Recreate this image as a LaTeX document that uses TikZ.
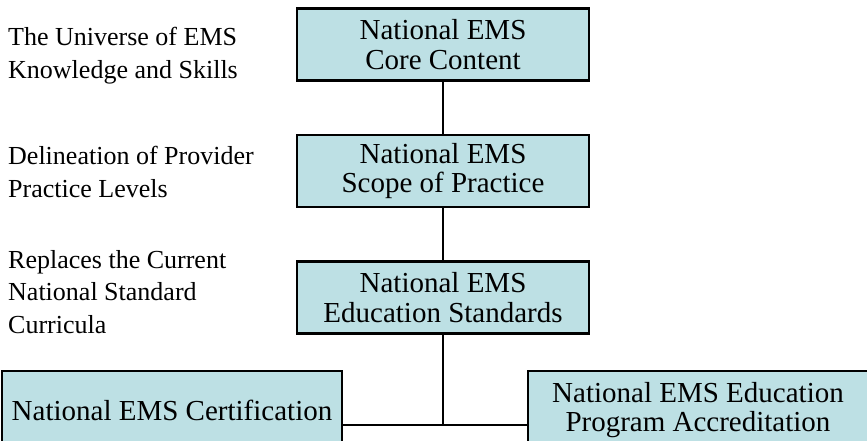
\documentclass[tikz,border=0pt]{standalone}
\usepackage{fontspec}
\setmainfont{Liberation Serif}
\usetikzlibrary{positioning}
\definecolor{boxfill}{RGB}{189,224,228}

\begin{document}
\begin{tikzpicture}[
    x=1pt, y=-1pt,
    node distance=52pt,
    level/.style={
        rectangle,
        draw=black,
        fill=boxfill,
        line width=2.6pt,
        align=center,
        font=\fontsize{29}{29.5}\selectfont,
        minimum width=292pt,
        minimum height=72pt,
        inner sep=0pt
    },
    outcome/.style={
        rectangle,
        draw=black,
        fill=boxfill,
        line width=2.6pt,
        align=center,
        font=\fontsize{29}{28.5}\selectfont,
        minimum width=340pt,
        minimum height=78pt,
        inner sep=0pt
    },
    note/.style={
        anchor=base west,
        align=left,
        inner sep=0pt,
        font=\fontsize{26}{32.5}\selectfont
    },
    link/.style={line width=2.6pt}
]

\useasboundingbox (0,0) rectangle (867,440);
\clip (0,0) rectangle (867,440);

% main chain
\node[level] (core) at (443,44.5) {National EMS\\Core Content};
\node[level, below=52pt of core] (scope) {National EMS\\Scope of Practice};
\node[level, below=52pt of scope] (edu) {National EMS\\Education Standards};

% the two outcomes, cut off at the page bottom
\node[outcome] (cert) at (172,410) {National EMS Certification};
\node[outcome] (accr) at (698,410) {National EMS Education\\Program Accreditation};

% side notes (placed by the baseline of their last line)
\node[note] (n1) at (8,78) {The Universe of EMS\\Knowledge and Skills};
\node[note] (n2) at (8,197) {Delineation of Provider\\Practice Levels};
\node[note] (n3) at (8,333) {Replaces the Current\\National Standard\\Curricula};

\coordinate (join) at (edu.south |- 0,425);

\draw[link] (core) -- (scope);
\draw[link] (scope) -- (edu);
\draw[link] (edu) -- (join);
\draw[link] (cert.east |- join) -- (accr.west |- join);

\end{tikzpicture}
\end{document}
